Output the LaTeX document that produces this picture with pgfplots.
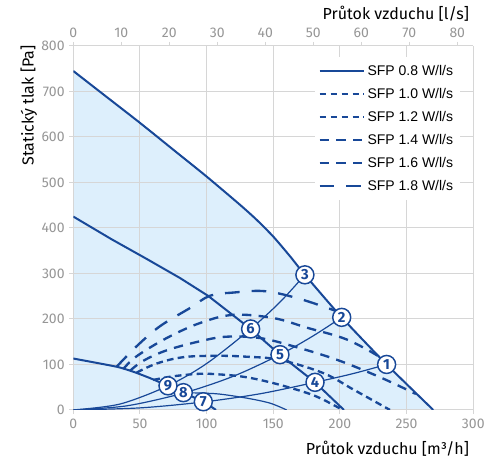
\documentclass[border=0pt]{standalone}
\usepackage{fontspec}
\setmainfont{Fira Sans}
\newfontfamily\legfont{Liberation Sans}
\usepackage{pgfplots}
\pgfplotsset{compat=1.18}
\definecolor{lb}{RGB}{24,72,152}
\definecolor{fillb}{RGB}{221,239,252}
\definecolor{gridc}{RGB}{214,214,214}
\definecolor{tickc}{RGB}{150,150,150}
\begin{document}
\begin{tikzpicture}
\begin{axis}[name=main, set layers, scale only axis, width=300pt, height=273pt,
  xmin=0, xmax=300, ymin=0, ymax=800,
  xtick={0,50,...,300}, ytick={0,100,...,800},
  grid=major, grid style={gridc, line width=0.75pt},
  axis x line*=bottom, axis y line*=left,
  axis line style={gridc, line width=0.75pt, -},
  tick style={gridc, line width=0.75pt},
  tick align=outside, major tick length=3pt,
  tick label style={font=\fontsize{10.5}{12}\selectfont, text=tickc, /pgf/number format/assume math mode=true},
  xlabel={Průtok vzduchu [m³/h]},
  xlabel style={at={(axis description cs:0.99,-0.085)}, anchor=north east, inner sep=0pt, font=\fontsize{12}{14}\selectfont},
  ylabel={Statický tlak [Pa]},
  ylabel style={at={(axis description cs:-0.09,1.002)}, anchor=south east, inner sep=0pt, font=\fontsize{12}{14}\selectfont},
  legend style={at={(0.967,0.97)}, anchor=north east, draw=none, fill=white, font=\legfont\fontsize{10.5}{12}\selectfont, row sep=4.1pt, inner xsep=3pt, inner ysep=4pt, cells={anchor=west}},
  legend image code/.code={\draw[#1] (0pt,0pt) -- (33pt,0pt);},
]
% legend entries
\addlegendimage{lb, line width=1.5pt}
\addlegendentry{SFP 0.8 W/l/s}
\addlegendimage{lb, line width=1.75pt, dash pattern=on 5pt off 3.2pt}
\addlegendentry{SFP 1.0 W/l/s}
\addlegendimage{lb, line width=1.75pt, dash pattern=on 5pt off 3.2pt}
\addlegendentry{SFP 1.2 W/l/s}
\addlegendimage{lb, line width=1.75pt, dash pattern=on 7pt off 5.5pt}
\addlegendentry{SFP 1.4 W/l/s}
\addlegendimage{lb, line width=1.75pt, dash pattern=on 7pt off 5.5pt}
\addlegendentry{SFP 1.6 W/l/s}
\addlegendimage{lb, line width=1.75pt, dash pattern=on 11pt off 9pt}
\addlegendentry{SFP 1.8 W/l/s}

% fill under max curve
\addplot[fill=fillb, draw=none, on layer=axis background, forget plot] coordinates {
(0,745) (25,688) (50,631) (75,572) (100,513) (125,451) (137.5,418) (150,381) (162.5,338) (173.7,297) (201.3,203.5) (235,100) (270,0)} \closedcycle;

% system curves
\addplot[lb, line width=0.9pt, smooth, forget plot] coordinates {
(0,0) (50,4.5) (97.5,17.5) (140,35.5) (181.3,60.7) (210,80) (235,100)};
\addplot[lb, line width=0.9pt, smooth, forget plot] coordinates {
(0,0) (40,9) (82.5,37) (120,74) (155,121.5) (180,163) (201.3,203.5)};
\addplot[lb, line width=0.9pt, smooth, forget plot] coordinates {
(0,0) (35,13) (71,53) (100,102) (133,178) (155,237) (173.7,297)};

% SFP 0.8 (thin solid)
\addplot[lb, line width=0.9pt, smooth, tension=0.5, forget plot] coordinates {
(82.5,38) (107.5,35.5) (130,26) (147.5,15) (160,0)};

% fan curves
\addplot[lb, line width=1.5pt, smooth, tension=0.4, forget plot] coordinates {
(0,745) (25,688) (50,631) (75,572) (100,513) (125,451) (137.5,418) (150,381) (162.5,338) (173.7,297) (201.3,203.5) (235,100) (270,0)};
\addplot[lb, line width=1.5pt, forget plot] coordinates {
(0,425) (28.8,375) (55,332) (80,290) (101,251) (133,178) (155,121.5) (181.3,60.7) (203,0)};
\addplot[lb, line width=1.5pt, smooth, tension=0.3, forget plot] coordinates {
(0,113) (32.5,95) (45,84) (57.5,70) (71,53) (82.5,38) (97.5,18) (107,0)};

% SFP dashed curves
\addplot[lb, line width=1.75pt, dash pattern=on 5pt off 3.2pt, smooth, tension=0.6, forget plot] coordinates {
(60,66) (75,74) (95,79.5) (110,78) (125,74) (140,66) (160,51) (182,30) (202,0)};
\addplot[lb, line width=1.75pt, dash pattern=on 5pt off 3.2pt, smooth, tension=0.6, forget plot] coordinates {
(47.5,82) (62.5,102) (82.5,116) (107.5,119) (130,117) (155,110) (187.5,81) (210,45) (237.5,0)};
\addplot[lb, line width=1.75pt, dash pattern=on 7pt off 5.5pt, smooth, tension=0.6, forget plot] coordinates {
(42.5,86) (52.5,108) (70,131) (95,151) (115,161) (140,158) (165,140) (197.5,110.5) (230,72) (257,35)};
\addplot[lb, line width=1.75pt, dash pattern=on 7pt off 5.5pt, smooth, tension=0.6, forget plot] coordinates {
(37.5,90) (47.5,118) (70,158) (95,191) (120,209) (150,202) (175,181) (205,155) (229,118)};
\addplot[lb, line width=1.75pt, dash pattern=on 11pt off 9pt, smooth, tension=0.6, forget plot] coordinates {
(32.5,95) (47.5,140) (65,184) (87.5,224) (102.5,251) (120,258) (143.8,261) (170,244) (197.5,217)};

% numbered points
\addplot[only marks, mark=none, forget plot, point meta=explicit symbolic, nodes near coords,
  nodes near coords style={circle, draw=lb, fill=white, line width=1.1pt, inner sep=0pt, minimum size=13.5pt, anchor=center, text=lb, font=\fontsize{11}{11}\selectfont\bfseries}]
  table[row sep=\\, meta=label] {
x y label\\
235 100 1\\
201.3 203.5 2\\
173.7 297 3\\
181.3 60.7 4\\
155 121.5 5\\
133 178 6\\
97.5 18 7\\
82.5 38 8\\
71 53 9\\
};
\end{axis}
\begin{axis}[scale only axis, width=300pt, height=273pt,
  xmin=0, xmax=83.3333, ymin=0, ymax=800,
  axis x line*=top, axis y line=none,
  axis line style={gridc, line width=0.75pt, -},
  tick style={gridc, line width=0.75pt},
  tick align=outside, major tick length=3pt,
  xtick={0,10,...,80},
  tick label style={font=\fontsize{10.5}{12}\selectfont, text=tickc, /pgf/number format/assume math mode=true},
  xlabel={Průtok vzduchu [l/s]},
  xlabel style={at={(axis description cs:0.99,1.068)}, anchor=south east, inner sep=0pt, font=\fontsize{12}{14}\selectfont},
]
\addplot[draw=none, forget plot] coordinates {(0,0) (80,0)};
\end{axis}
\pgfresetboundingbox
\path[use as bounding box] ([shift={(-55pt,-38pt)}]main.south west) rectangle ([shift={(20.8pt,34.5pt)}]main.north east);
\end{tikzpicture}
\end{document}
